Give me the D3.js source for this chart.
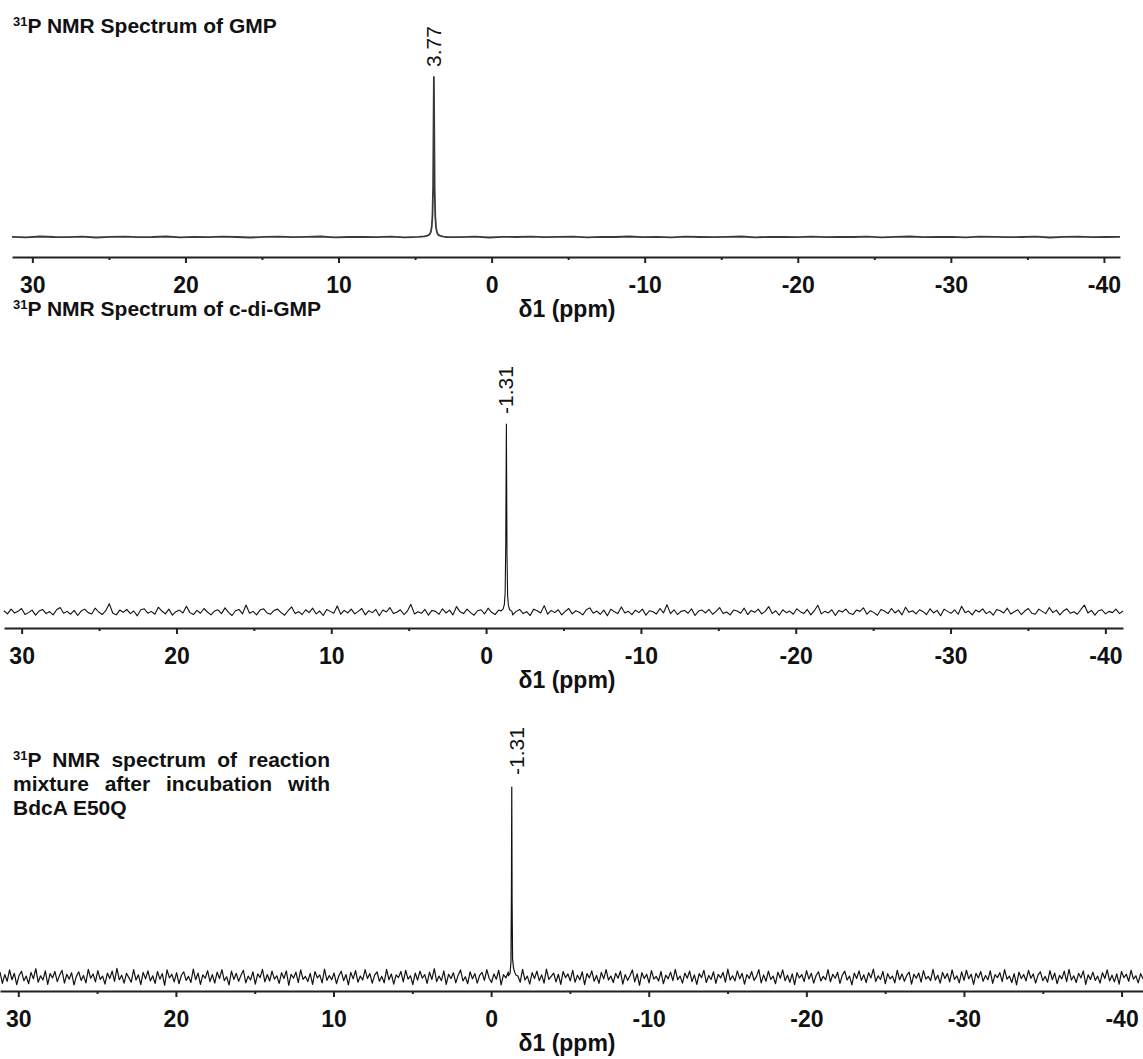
<!doctype html>
<html lang="en">
<head>
  <meta charset="UTF-8">
  <title>31P NMR spectra</title>
  <script src="https://cdn.jsdelivr.net/npm/d3@7"></script>
  <style>
    body { margin: 0; background: #fff; }
    text { font-family: "Liberation Sans", Arial, sans-serif; }
  </style>
</head>
<body>
<svg width="1143" height="1059" id="nmr"></svg>
<script>
  // ---- data ----
  var ppmTicks = [30, 20, 10, 0, -10, -20, -30, -40];
  var ppmMinor = [25, 15, 5, -5, -15, -25, -35];
  var axisTitle = 'δ1 (ppm)';

  var titleGMP = ['P NMR Spectrum of GMP'];
  var titleCDG = ['P NMR Spectrum of c-di-GMP'];
  var titleMix = ['P NMR spectrum of reaction', 'mixture after incubation with', 'BdcA E50Q'];

  var peakPpm = [3.77, -1.31, -1.31];
  var peakLabels = ['3.77', '-1.31', '-1.31'];

  // peak points [ppm, intensity] (arbitrary intensity units, same as the noise below)
  var peakGMP = [[4.40, 0.4], [4.20, 0.8], [4.05, 1.6], [3.97, 3.2], [3.91, 6.5], [3.86, 14], [3.82, 32],
    [3.79, 75], [3.77, 100], [3.75, 74], [3.72, 30], [3.68, 13], [3.63, 6], [3.57, 3], [3.50, 1.5],
    [3.35, 0.7], [3.15, 0.3]];
  var peakCDG = [[-0.95, 0.3], [-1.10, 0.9], [-1.18, 2.4], [-1.23, 6], [-1.27, 21], [-1.29, 41],
    [-1.31, 59], [-1.33, 40], [-1.35, 18], [-1.39, 5.3], [-1.44, 2.1], [-1.52, 0.7], [-1.67, 0.2]];
  var peakMix = [[-1.10, 0.4], [-1.20, 1.2], [-1.26, 5], [-1.29, 28], [-1.31, 62], [-1.33, 25],
    [-1.36, 6], [-1.42, 3], [-1.50, 1.5], [-1.60, 0.5]];

  // baseline noise, evenly spread over the axis range
  var noiseGMP = [0.1, -0.2, 0.3, 0, -0.1, 0.2, -0.3, 0.1, 0.2, -0.1, 0, 0.3, -0.2, 0.1, -0.1, 0.2, 0, -0.3, 0.1, 0.2,
    -0.1, 0.1, 0.3, -0.2, 0, 0.1, -0.1, 0.2, -0.2, 0.1, 0.3, 0, -0.1, 0.2, -0.3, 0.1, 0, 0.2, -0.1, 0.1,
    0.2, -0.2, 0.1, 0, 0.3, -0.1, 0.1, -0.2, 0.2, 0, -0.1, 0.1, 0.3, -0.2, 0.1, 0, -0.1, 0.2, -0.1, 0.1,
    0, 0.2, -0.2, 0.1, 0.3, -0.1, 0, 0.1, -0.2, 0.2, 0.1, -0.1, 0, 0.2, -0.3, 0.1, 0.2, -0.1, 0, 0.1];

  var noiseCDG = [0.4, -0.6, 0.9, -0.3, 0.2, 1.1, -0.8, -0.2, 0.6, -1.0, 0.3, 0.8, -0.5, 0.1, -0.9, 0.7, 1.4, -0.4, 0.2, -0.7,
    0.5, -1.1, 0.3, 0.9, -0.2, -0.6, 1.2, 0.0, -0.8, 0.4, 2.6, -0.3, -0.9, 0.6, -0.1, 0.8, -0.5, 0.3, -1.2, 0.7,
    1.0, -0.4, 0.2, -0.7, 1.5, 0.3, -0.6, 0.9, -1.0, 0.1, 0.6, -0.3, 1.8, -0.2, -0.8, 0.5, -0.4, 1.1, 0.0, -0.9,
    0.3, 0.7, -0.5, 1.3, -0.1, -1.1, 0.4, 0.8, -0.6, 2.2, -0.4, 0.2, -0.9, 0.6, 1.0, -0.3, -0.7, 0.5, 0.9, -0.2,
    -1.0, 0.4, 1.6, -0.5, 0.1, -0.8, 0.7, -0.2, 1.2, -0.6, 0.3, -1.1, 0.8, 0.2, -0.4, 1.9, -0.7, 0.5, -0.3, 0.9,
    -0.6, 0.2, 1.1, -0.9, 0.4, -0.2, 0.8, -1.2, 0.6, 0.0, 1.4, -0.5, -0.1, 0.7, -0.8, 0.3, 2.4, -0.6, 0.1, -0.4,
    0.8, -1.0, 0.5, 0.2, -0.7, 1.0, -0.3, 0.6, -0.9, 1.7, 0.1, -0.5, 0.9, -0.2, -1.0, 0.4, 0.7, -0.6, 1.2, -0.1,
    -0.8, 0.6, 0.3, -0.4, 1.5, -0.9, 0.2, 0.8, -0.5, 0.1, -1.1, 0.9, 0.4, -0.3, 2.0, -0.7, 0.5, -0.2, 0.7, -0.9,
    0.2, 1.1, -0.6, 0.4, -0.1, -0.9, 0.7, 1.3, -0.4, 0.3, -0.7, 0.6, -1.2, 0.9, 0.1, -0.5, 1.6, -0.3, 0.2, -0.8,
    0.6, -0.2, 0.9, -1.0, 0.4, 0.1, -0.6, 1.1, -0.3, 2.3, -0.5, 0.7, -0.8, 0.2, 0.5, -0.4, 1.0, -1.1, 0.3, 0.6,
    -0.3, 0.8, -0.7, 0.2, 1.4, -0.5, 0.0, -0.9, 0.6, 0.3, -0.4, 1.2, -0.8, 0.5, -0.1, 0.9, -0.6, 0.2, 1.7, -0.5,
    0.4, -1.0, 0.7, -0.2, 0.3, -0.7, 1.0, 0.1, -0.5, 0.8, -0.9, 0.4, 2.1, -0.6, 0.2, -0.3, 0.7, -1.1, 0.5, 0.0,
    0.9, -0.4, -0.8, 0.6, 0.2, 1.3, -0.7, 0.4, -0.2, -1.0, 0.8, 0.3, -0.5, 1.1, -0.3, 0.6, -0.9, 1.5, -0.1, 0.4,
    -0.6, 0.7, 0.1, -0.8, 1.0, -0.3, 0.5, -1.2, 0.9, 0.2, -0.4, 0.7, -0.7, 1.8, -0.2, 0.3, -0.9, 0.6, 0.0, 1.0,
    -0.5, 0.2, -1.0, 0.8, 0.4, -0.3, 1.2, -0.6, 0.1, 0.7, -0.8, 0.3, 1.1, -0.4, -0.7, 0.9, 0.2, -0.5, 1.4, -0.2,
    0.6, -0.9, 0.3, 1.0, -0.4, 0.1, -0.7, 0.8, 2.2, -0.3, 0.5, -1.0, 0.4, 0.7, -0.6, 0.2, -0.2, 0.9, -0.5, 0.3];

  var noiseMix = [1.6, -2.1, 0.8, -1.4, 2.3, -0.9, 1.2, -2.5, 0.5, 1.9, -1.2, 0.3, -2.2, 1.5, -0.6, 2.7, -1.7, 0.4, -1.0, 2.0,
    -2.4, 1.1, -0.3, 1.8, -1.5, 0.6, 2.2, -2.0, 0.9, -0.7, 1.4, -2.6, 0.2, 1.7, -1.1, 0.5, -1.9, 2.5, -0.4, 1.0,
    -1.6, 2.1, -0.8, 0.3, -2.3, 1.3, -0.5, 1.9, -1.4, 2.8, -0.9, 0.6, -2.0, 1.2, -0.2, -1.7, 2.4, -1.0, 0.7, -2.5,
    1.5, -0.6, 2.0, -1.3, 0.4, -2.1, 1.8, -0.7, 1.1, -2.7, 2.3, -0.3, 0.9, -1.6, 1.4, -2.2, 0.5, 1.7, -1.1, 0.2,
    -1.8, 2.6, -0.9, 1.3, -2.4, 0.7, -0.4, 2.1, -1.5, 0.8, -2.0, 1.6, -0.5, 2.4, -1.2, 0.1, -2.6, 1.9, -0.8, 1.2,
    -1.4, 0.6, 2.2, -1.9, 0.3, -1.0, 1.7, -2.3, 1.0, -0.2, 2.5, -1.6, 0.8, -1.3, 1.9, -0.7, 0.4, -2.1, 1.4, -0.5,
    2.0, -2.7, 0.9, -0.4, 1.6, -1.8, 2.3, -0.8, 0.2, -1.5, 1.2, -2.4, 1.8, -0.3, 0.7, -1.9, 2.6, -1.1, 0.5, -0.9,
    1.3, -2.2, 0.4, 1.9, -1.2, 0.8, -2.6, 1.5, -0.6, 2.1, -1.7, 0.3, -1.0, 2.4, -0.5, 1.1, -2.0, 0.6, 1.7, -1.4,
    0.2, -1.9, 2.5, -0.9, 1.0, -2.3, 0.7, -0.2, 1.8, -1.6, 2.2, -0.7, 0.4, -2.5, 1.3, -1.0, 1.9, -0.4, 0.8, -2.1,
    1.6, -0.8, 2.7, -1.5, 0.3, -1.2, 2.0, -2.4, 0.9, -0.5, 1.4, -1.9, 0.6, 2.3, -1.3, 0.1, -2.2, 1.7, -0.6, 1.1,
    -2.0, 0.5, 1.5, -1.1, 2.4, -0.4, -1.8, 1.0, -0.7, 2.2, -2.6, 0.8, -0.3, 1.6, -1.4, 2.1, -0.9, 0.4, -1.7, 2.5,
    -1.0, 0.3, -2.3, 1.4, -0.5, 1.9, -1.2, 0.7, -2.0, 2.6, -0.8, 0.2, 1.3, -1.6, 0.9, -2.4, 1.8, -0.2, 1.0, -1.3,
    2.2, -1.7, 0.6, -0.9, 1.7, -2.5, 1.1, -0.3, 2.0, -1.4, 0.5, -2.1, 1.5, -0.6, 2.4, -1.0, 0.3, -1.8, 1.2, -0.4,
    1.9, -2.3, 0.8, -1.1, 0.4, 2.3, -1.6, 1.0, -2.7, 1.4, -0.5, 0.9, -1.9, 2.1, -0.7, 0.2, -1.3, 1.8, -2.2, 0.6,
    -0.6, 1.6, -1.2, 2.5, -0.9, 0.3, -2.0, 1.3, -0.4, 1.9, -1.5, 0.7, -2.4, 1.1, -0.2, 2.2, -1.8, 0.5, -0.8, 1.7,
    -2.1, 0.9, -0.3, 1.5, -1.7, 2.6, -1.0, 0.4, -1.3, 2.0, -0.6, 1.2, -2.3, 0.8, -0.5, 1.8, -1.1, 0.1, 2.4, -1.9,
    0.7, -1.4, 1.9, -0.8, 0.3, -2.2, 1.6, -0.4, 2.3, -1.2, 0.6, -1.7, 1.0, -2.5, 1.4, -0.3, 0.8, -1.5, 2.1, -0.7,
    1.2, -2.0, 0.5, 1.7, -1.3, 0.2, -0.9, 2.4, -1.6, 0.9, -0.4, 1.5, -2.1, 0.6, 1.9, -1.0, 0.3, -2.6, 1.3, -0.5,
    2.0, -1.1, 0.7, -1.8, 1.4, -0.3, 2.6, -1.5, 0.4, -0.8, 1.8, -2.2, 1.1, -0.6, 0.3, -1.9, 2.2, -0.9, 1.0, -1.4,
    0.5, 1.6, -2.3, 0.9, -0.4, 1.3, -1.7, 2.1, -0.7, 0.2, -1.2, 2.5, -1.0, 0.6, -2.0, 1.5, -0.5, 1.1, -1.6, 2.3,
    -0.8, 0.4, -1.9, 1.7, -1.1, 2.2, -0.6, 0.9, -2.4, 1.2, -0.3, 1.8, -1.4, 0.5, -0.9, 2.0, -2.1, 0.8, -0.2, 1.4,
    -1.5, 2.4, -0.7, 0.3, -1.8, 1.1, -2.6, 1.6, -0.5, 0.8, -1.3, 2.2, -0.4, 1.0, -2.0, 0.6, 1.7, -1.2, 0.2, -1.7,
    2.1, -0.9, 1.3, -2.2, 0.5, -0.6, 1.9, -1.5, 2.5, -1.0, 0.4, -1.8, 1.2, -0.3, 2.0, -2.4, 0.7, -0.8, 1.6, -1.1,
    0.3, -2.0, 1.4, -0.5, 2.3, -1.3, 0.6, -1.6, 1.0, -2.3, 1.8, -0.2, 0.9, -1.4, 2.2, -0.7, 0.4, -1.9, 1.1, -0.6];

  // ---- drawing ----
  var svg = d3.select('#nmr');

  var panels = [
    {title: titleGMP, titleY: 33, noise: noiseGMP, peak: peakGMP, idx: 0,
      domain: [31.33, -41.05], range: [12, 1120], axisY: 257, baseY: 237, topY: 77,
      stroke: '#3a3a3a', sw: 1.8, labelDx: 7, labelGap: 10},
    {title: titleCDG, titleY: 316, noise: noiseCDG, peak: peakCDG, idx: 1,
      domain: [31.14, -41.14], range: [4, 1123], axisY: 628, baseY: 612, topY: 424,
      stroke: '#111', sw: 1.1, labelDx: 7, labelGap: 10},
    {title: titleMix, titleY: 767, noise: noiseMix, peak: peakMix, idx: 2,
      domain: [31.16, -41.36], range: [0, 1143], axisY: 991, baseY: 977, topY: 787,
      stroke: '#111', sw: 1.2, labelDx: 12, labelGap: 12}
  ];

  function buildSpectrum(noise, peak, domain) {
    var step = (domain[0] - domain[1]) / (noise.length - 1);
    var hi = peak[0][0], lo = peak[peak.length - 1][0];
    var pts = noise.map(function (v, i) { return [domain[0] - i * step, v]; })
      .filter(function (d) { return d[0] > hi || d[0] < lo; });
    return pts.concat(peak).sort(function (a, b) { return b[0] - a[0]; });
  }

  function justify(textSel, width) {
    var node = textSel.node();
    var len = node.getComputedTextLength();
    var gaps = (textSel.text().match(/ /g) || []).length;
    if (gaps > 0 && len < width) textSel.attr('word-spacing', (width - len) / gaps);
  }

  panels.forEach(function (p) {
    var x = d3.scaleLinear().domain(p.domain).range(p.range);
    var y = d3.scaleLinear()
      .domain([0, d3.max(p.peak, function (d) { return d[1]; })])
      .range([p.baseY, p.topY]);
    var g = svg.append('g');

    // title (first line has the 31 superscript)
    p.title.forEach(function (line, i) {
      var t = g.append('text')
        .attr('x', 13)
        .attr('y', p.titleY + i * 24)
        .attr('font-size', 21)
        .attr('font-weight', 'bold')
        .attr('fill', '#111');
      if (i === 0) {
        t.append('tspan').attr('font-size', 13).attr('dy', -7).text('31');
        t.append('tspan').attr('dy', 7).text(line);
      } else {
        t.text(line);
      }
      if (p.title.length > 1 && i < p.title.length - 1) justify(t, 317);
    });

    // spectrum
    var data = buildSpectrum(p.noise, p.peak, p.domain);
    g.append('path')
      .datum(data)
      .attr('fill', 'none')
      .attr('stroke', p.stroke)
      .attr('stroke-width', p.sw)
      .attr('stroke-linejoin', 'round')
      .attr('d', d3.line().x(function (d) { return x(d[0]); }).y(function (d) { return y(d[1]); }));

    // peak label, rotated
    var lx = x(peakPpm[p.idx]) + p.labelDx, ly = p.topY - p.labelGap;
    g.append('text')
      .attr('x', lx)
      .attr('y', ly)
      .attr('transform', 'rotate(-90,' + lx + ',' + ly + ')')
      .attr('font-size', 21)
      .attr('fill', '#111')
      .text(peakLabels[p.idx]);

    // axis
    var ax = g.append('g')
      .attr('transform', 'translate(0,' + p.axisY + ')')
      .call(d3.axisBottom(x).tickValues(ppmTicks).tickSize(6).tickSizeOuter(0).tickPadding(14)
        .tickFormat(function (d) { return String(d); }));
    ax.select('.domain').attr('stroke', '#222').attr('stroke-width', 2);
    ax.selectAll('.tick line').attr('stroke', '#222').attr('stroke-width', 2);
    ax.selectAll('.tick text')
      .attr('font-size', 23)
      .attr('font-weight', 'bold')
      .attr('font-family', '"Liberation Sans", Arial, sans-serif')
      .attr('fill', '#111');

    var minor = g.append('g')
      .attr('transform', 'translate(0,' + p.axisY + ')')
      .call(d3.axisBottom(x).tickValues(ppmMinor).tickSize(3).tickFormat(''));
    minor.select('.domain').remove();
    minor.selectAll('.tick line').attr('stroke', '#222').attr('stroke-width', 2);

    g.append('text')
      .attr('x', 567)
      .attr('y', p.axisY + 60)
      .attr('text-anchor', 'middle')
      .attr('font-size', 23)
      .attr('font-weight', 'bold')
      .attr('fill', '#111')
      .text(axisTitle);
  });
</script>
</body>
</html>
